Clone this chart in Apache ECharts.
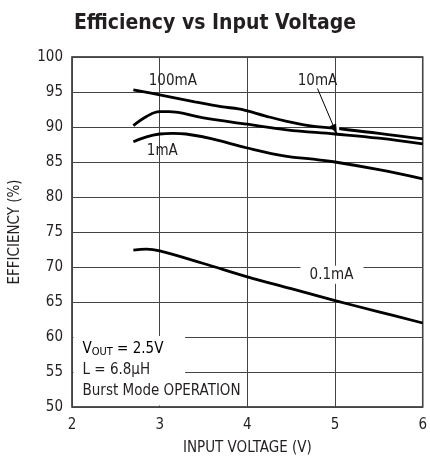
<!DOCTYPE html>
<html><head><meta charset="utf-8">
<script src="https://cdn.jsdelivr.net/npm/echarts@6/dist/echarts.min.js"></script>
<style>html,body{margin:0;padding:0;background:#fff}#c{width:430px;height:463px}</style>
</head><body><div id="c"></div>
<script>
const FONT = '"Liberation Sans Narrow","DejaVu Sans Condensed","Liberation Sans",sans-serif';
const xTicks = [2, 3, 4, 5, 6];
const yTicks = [50, 55, 60, 65, 70, 75, 80, 85, 90, 95, 100];
const seriesNames = ['100mA', '10mA', '1mA', '0.1mA'];
const s100mA = [[2.7,95.3],[3.0,94.6],[3.4,93.6],[3.7,92.9],[3.9,92.6],[4.0,92.3],[4.2,91.6],[4.45,90.8],[4.7,90.2],[5.0,89.8],[5.5,89.1],[6.0,88.3]];
const s10mA = [[2.7,90.2],[2.85,91.5],[3.0,92.2],[3.1,92.2],[3.5,91.3],[4.0,90.4],[4.45,89.6],[5.0,89.0],[5.5,88.4],[6.0,87.6]];
const s1mA = [[2.7,87.9],[2.85,88.6],[3.0,89.0],[3.15,89.1],[3.3,89.0],[3.6,88.3],[4.0,87.0],[4.45,85.8],[4.75,85.4],[5.0,85.0],[5.5,83.9],[6.0,82.6]];
const s01mA = [[2.7,72.4],[2.85,72.55],[3.0,72.3],[3.5,70.5],[4.0,68.6],[4.5,66.9],[5.0,65.2],[5.5,63.6],[6.0,62.0]];
const allData = [s100mA, s10mA, s1mA, s01mA];
// label anchor positions in data coords
const labelPos = {'100mA':[3.15,96.5], '10mA':[4.8,96.6], '1mA':[3.03,86.5], '0.1mA':[4.96,68.9]};

const chart = echarts.init(document.getElementById('c'), null, {renderer:'canvas'});
const option = {
  animation:false,
  backgroundColor:'#fff',
  title:{text:'Efficiency vs Input Voltage', left:210, top:8, textAlign:'center',
    textStyle:{fontFamily:FONT, fontWeight:'bold', fontSize:21, color:'#231f20'}},
  grid:{left:72, right:7, top:57, bottom:56, show:true, borderColor:'#231f20', borderWidth:1.5},
  xAxis:{type:'value', min:2, max:6, interval:1,
    name:'INPUT VOLTAGE (V)', nameLocation:'middle', nameGap:34,
    nameTextStyle:{fontFamily:FONT, fontSize:15, color:'#231f20'},
    axisLine:{show:false}, axisTick:{show:false},
    axisLabel:{fontFamily:FONT, fontSize:15, color:'#231f20', margin:11},
    splitLine:{show:true, lineStyle:{color:'#444', width:1}}},
  yAxis:{type:'value', min:50, max:100, interval:5,
    name:'EFFICIENCY (%)', nameLocation:'middle', nameGap:49, nameRotate:90,
    nameTextStyle:{fontFamily:FONT, fontSize:15, color:'#231f20'},
    axisLine:{show:false}, axisTick:{show:false},
    axisLabel:{fontFamily:FONT, fontSize:15, color:'#231f20', margin:9},
    splitLine:{show:true, lineStyle:{color:'#444', width:1}}},
  series: seriesNames.map((n,i)=>({
    name:n, type:'line', data:allData[i], smooth:0.4, showSymbol:false, symbol:'none',
    lineStyle:{color:'#000', width:2.8}, z:3
  }))
};
chart.setOption(option);

function px(p){ return chart.convertToPixel({gridIndex:0}, p); }
const g = [];
// white boxes behind notes
const boxTL = px([2.0, 60.15]), boxBR = px([3.29, 50]);
g.push({type:'rect', shape:{x:boxTL[0]+1.5, y:boxTL[1], width:boxBR[0]-boxTL[0]-1.5, height:boxBR[1]-boxTL[1]-1.5}, style:{fill:'#fff'}, z:10});
const l01 = labelPos['0.1mA'];
const p01 = px(l01);
g.push({type:'rect', shape:{x:p01[0]-31, y:p01[1]-9, width:63, height:18}, style:{fill:'#fff'}, z:10});
// small break in 100mA curve at arrow tip
const br = px([5.03, 89.75]);
g.push({type:'rect', shape:{x:br[0]-1.5, y:br[1]-3, width:3, height:6}, style:{fill:'#fff'}, z:10});
seriesNames.forEach(n=>{
  const p = px(labelPos[n]);
  g.push({type:'text', x:p[0], y:p[1], z:20,
    style:{text:n, fontFamily:FONT, fontSize:15, fill:'#231f20', align:'center', verticalAlign:'middle'}});
});
// arrow for 10mA
const a0 = px([4.8, 95.5]), a1 = px([5.02, 89.0]);
g.push({type:'line', shape:{x1:a0[0], y1:a0[1], x2:a1[0], y2:a1[1]}, style:{stroke:'#000', lineWidth:1}, z:20});
const ang = Math.atan2(a1[1]-a0[1], a1[0]-a0[0]);
const L=10, W=3.5;
const bx = a1[0]-L*Math.cos(ang), by = a1[1]-L*Math.sin(ang);
g.push({type:'polygon', shape:{points:[[a1[0],a1[1]],[bx+W*Math.sin(ang), by-W*Math.cos(ang)],[bx-W*Math.sin(ang), by+W*Math.cos(ang)]]}, style:{fill:'#000'}, z:20});
// notes
const n0 = px([2.12, 58.3]);
g.push({type:'text', x:n0[0], y:n0[1], z:20,
  style:{text:'{a|V}{s|OUT}{a| = 2.5V}', verticalAlign:'middle',
    rich:{a:{fontFamily:FONT, fontSize:15, color:'#231f20'},
          s:{fontFamily:FONT, fontSize:11, color:'#231f20', verticalAlign:'bottom', padding:[6,0,0,0]}}}});
const n1 = px([2.12, 55.3]);
g.push({type:'text', x:n1[0], y:n1[1], z:20,
  style:{text:'L = 6.8\u03bcH', fontFamily:FONT, fontSize:15, fill:'#231f20', verticalAlign:'middle'}});
const n2 = px([2.12, 52.3]);
g.push({type:'text', x:n2[0], y:n2[1], z:20,
  style:{text:'Burst Mode OPERATION', fontFamily:FONT, fontSize:15, fill:'#231f20', verticalAlign:'middle'}});
chart.setOption({graphic:g});
</script></body></html>
